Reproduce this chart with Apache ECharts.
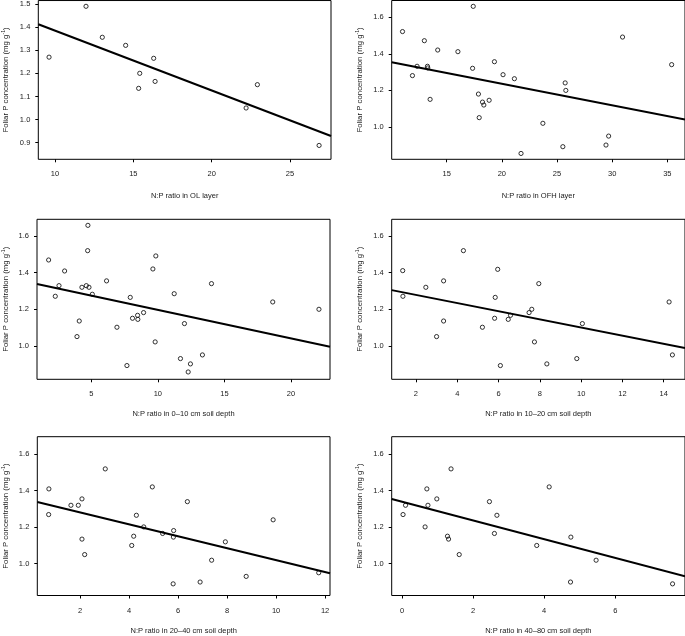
<!DOCTYPE html>
<html>
<head>
<meta charset="utf-8">
<script src="https://cdn.jsdelivr.net/npm/echarts@6/dist/echarts.min.js"></script>
<style>
html,body{margin:0;padding:0;background:#fff;}
#c{width:685px;height:636px;}
</style>
</head>
<body>
<div id="c"></div>
<script>
// ---- data ----
const olX  = [9.62, 11.98, 13.02, 14.51, 16.30, 15.41, 16.39, 15.34, 22.92, 22.20, 26.86];
const olY  = [1.27, 1.49, 1.356, 1.321, 1.265, 1.20, 1.165, 1.135, 1.151, 1.05, 0.888];

const ofhX = [11.0, 17.41, 12.98, 14.19, 16.02, 11.90, 12.32, 13.26, 13.29, 13.50, 17.35, 19.33, 20.11, 21.14, 17.88, 17.95, 18.25, 18.37, 18.85, 25.74, 25.80, 23.72, 21.74, 25.53, 29.44, 29.68, 30.94, 35.39];
const ofhY = [1.522, 1.66, 1.472, 1.421, 1.412, 1.281, 1.332, 1.332, 1.323, 1.151, 1.321, 1.357, 1.286, 1.264, 1.180, 1.051, 1.136, 1.120, 1.146, 1.241, 1.200, 1.020, 0.855, 0.892, 0.901, 0.950, 1.492, 1.341];

const s0X = [1.8, 2.3, 2.58, 3.0, 4.75, 4.73, 4.63, 4.3, 4.83, 5.08, 4.1, 3.93, 6.15, 6.93, 7.93, 7.68, 8.1, 8.48, 8.5, 8.93, 9.63, 9.85, 9.8, 11.23, 12.0, 11.7, 12.45, 12.28, 13.35, 14.03, 18.63, 22.1];
const s0Y = [1.469, 1.271, 1.329, 1.409, 1.658, 1.52, 1.329, 1.32, 1.32, 1.282, 1.136, 1.051, 1.355, 1.102, 1.265, 0.893, 1.151, 1.167, 1.145, 1.182, 1.42, 1.491, 1.022, 1.285, 1.122, 0.931, 0.902, 0.858, 0.951, 1.34, 1.24, 1.20];

const s10X = [1.36, 1.37, 2.48, 3.0, 3.34, 3.34, 4.3, 5.22, 5.96, 5.84, 5.81, 6.09, 6.47, 6.58, 7.48, 7.61, 7.74, 7.95, 8.34, 10.06, 9.79, 14.26, 14.42];
const s10Y = [1.411, 1.271, 1.32, 1.051, 1.355, 1.136, 1.52, 1.102, 1.418, 1.265, 1.151, 0.893, 1.145, 1.167, 1.182, 1.20, 1.022, 1.34, 0.902, 1.122, 0.931, 1.24, 0.951];

const s20X = [0.73, 0.72, 1.63, 1.93, 2.08, 2.08, 2.19, 3.03, 4.11, 4.19, 4.30, 4.60, 4.95, 5.37, 5.82, 5.81, 5.80, 6.38, 6.90, 7.37, 7.93, 8.78, 9.88, 11.74];
const s20Y = [1.41, 1.269, 1.32, 1.32, 1.355, 1.134, 1.049, 1.52, 1.099, 1.15, 1.265, 1.201, 1.421, 1.165, 1.181, 1.145, 0.888, 1.34, 0.898, 1.018, 1.119, 0.929, 1.24, 0.949];

const s40X = [0.03, 0.10, 0.65, 0.70, 0.73, 0.98, 1.28, 1.31, 1.38, 1.61, 2.46, 2.60, 2.67, 3.79, 4.14, 4.75, 4.74, 5.46, 7.61];
const s40Y = [1.269, 1.32, 1.201, 1.41, 1.32, 1.355, 1.15, 1.134, 1.52, 1.049, 1.34, 1.165, 1.265, 1.099, 1.421, 1.145, 0.898, 1.018, 0.888];

const fitIntercept = [1.644, 1.472, 1.352, 1.323, 1.346, 1.340];
const fitSlope     = [-0.0259, -0.01178, -0.01555, -0.0222, -0.0328, -0.0516];

const xTitles = [
  'N:P ratio in OL layer',
  'N:P ratio in OFH layer',
  'N:P ratio in 0\u201310 cm soil depth',
  'N:P ratio in 10\u201320 cm soil depth',
  'N:P ratio in 20\u201340 cm soil depth',
  'N:P ratio in 40\u201380 cm soil depth'
];
const yTitleMain = 'Foliar P concentration (mg g';
const yTitleSup = '-1';

const xTicks = [
  [10, 15, 20, 25],
  [15, 20, 25, 30, 35],
  [5, 10, 15, 20],
  [2, 4, 6, 8, 10, 12, 14],
  [2, 4, 6, 8, 10, 12],
  [0, 2, 4, 6]
];
const yTicks = [
  [0.9, 1.0, 1.1, 1.2, 1.3, 1.4, 1.5],
  [1.0, 1.2, 1.4, 1.6],
  [1.0, 1.2, 1.4, 1.6],
  [1.0, 1.2, 1.4, 1.6],
  [1.0, 1.2, 1.4, 1.6],
  [1.0, 1.2, 1.4, 1.6]
];

const xs = [olX, ofhX, s0X, s10X, s20X, s40X];
const ys = [olY, ofhY, s0Y, s10Y, s20Y, s40Y];

// ---- layout ----
const layout = [
  {left: 38.3,  top: 0.5,   width: 292.7, height: 158.8, xmin: 8.934,  xmax: 27.62, ymin: 0.828, ymax: 1.515, xGap: 32.5, yGap: 27},
  {left: 391.7, top: 0.5,   width: 294.3, height: 158.8, xmin: 10.02,  xmax: 36.6,  ymin: 0.823, ymax: 1.692, xGap: 32.5, yGap: 27},
  {left: 36.7,  top: 219.3, width: 293.3, height: 160,   xmin: 0.927,  xmax: 22.93, ymin: 0.818, ymax: 1.691, xGap: 30.5, yGap: 26},
  {left: 391.7, top: 219.3, width: 294.3, height: 160,   xmin: 0.827,  xmax: 15.03, ymin: 0.818, ymax: 1.691, xGap: 30.5, yGap: 27},
  {left: 37.3,  top: 436.7, width: 292.7, height: 159,   xmin: 0.257,  xmax: 12.2,  ymin: 0.824, ymax: 1.697, xGap: 31.5, yGap: 26},
  {left: 391.7, top: 436.7, width: 294.3, height: 159,   xmin: -0.289, xmax: 7.96,  ymin: 0.824, ymax: 1.697, xGap: 31.5, yGap: 27}
];

const FONT = "'Liberation Sans', Arial, Helvetica, sans-serif";
const TXT = '#1a1a1a';

const grid = [], xAxis = [], yAxis = [], series = [];
layout.forEach((L, i) => {
  grid.push({left: L.left, top: L.top, width: L.width, height: L.height, show: true,
             borderColor: '#000', borderWidth: 1, backgroundColor: 'transparent', containLabel: false});
  xAxis.push({
    type: 'value', gridIndex: i, min: L.xmin, max: L.xmax,
    axisLine: {show: false, onZero: false},
    splitLine: {show: false},
    axisTick: {show: true, length: 3, inside: false, customValues: xTicks[i], lineStyle: {color: '#000', width: 1}},
    axisLabel: {customValues: xTicks[i], margin: 11, fontSize: 7.5, color: TXT, fontFamily: FONT,
                formatter: v => String(Math.round(v))},
    name: xTitles[i], nameLocation: 'middle', nameGap: L.xGap,
    nameTextStyle: {fontSize: 7.5, color: TXT, fontFamily: FONT}
  });
  yAxis.push({
    type: 'value', gridIndex: i, min: L.ymin, max: L.ymax,
    axisLine: {show: false, onZero: false},
    splitLine: {show: false},
    axisTick: {show: true, length: 3, inside: false, customValues: yTicks[i], lineStyle: {color: '#000', width: 1}},
    axisLabel: {customValues: yTicks[i], margin: 8, fontSize: 7.5, color: TXT, fontFamily: FONT,
                formatter: v => v.toFixed(1)},
    name: '{t|' + yTitleMain + '}{s|' + yTitleSup + '}{t|)}',
    nameLocation: 'middle', nameGap: L.yGap,
    nameTextStyle: {color: TXT, fontFamily: FONT,
      rich: {
        t: {fontSize: 7.8, color: TXT, fontFamily: FONT, lineHeight: 10},
        s: {fontSize: 5.2, color: TXT, fontFamily: FONT, verticalAlign: 'top', lineHeight: 10, padding: [0, 0, 3, 0]}
      }}
  });
  const pts = xs[i].map((x, k) => [x, ys[i][k]]);
  series.push({
    type: 'scatter', xAxisIndex: i, yAxisIndex: i, data: pts,
    symbol: 'circle', symbolSize: 4.2,
    itemStyle: {color: 'rgba(255,255,255,0)', borderColor: '#000', borderWidth: 1},
    silent: true, z: 3
  });
  const a = fitIntercept[i], b = fitSlope[i];
  series.push({
    type: 'line', xAxisIndex: i, yAxisIndex: i,
    data: [[L.xmin, a + b * L.xmin], [L.xmax, a + b * L.xmax]],
    showSymbol: false, symbol: 'none', clip: true,
    lineStyle: {color: '#000', width: 2}, silent: true, z: 4
  });
});

const chart = echarts.init(document.getElementById('c'), null, {renderer: 'canvas'});
chart.setOption({
  backgroundColor: '#fff',
  animation: false,
  textStyle: {fontFamily: FONT},
  grid, xAxis, yAxis, series
});
</script>
</body>
</html>
